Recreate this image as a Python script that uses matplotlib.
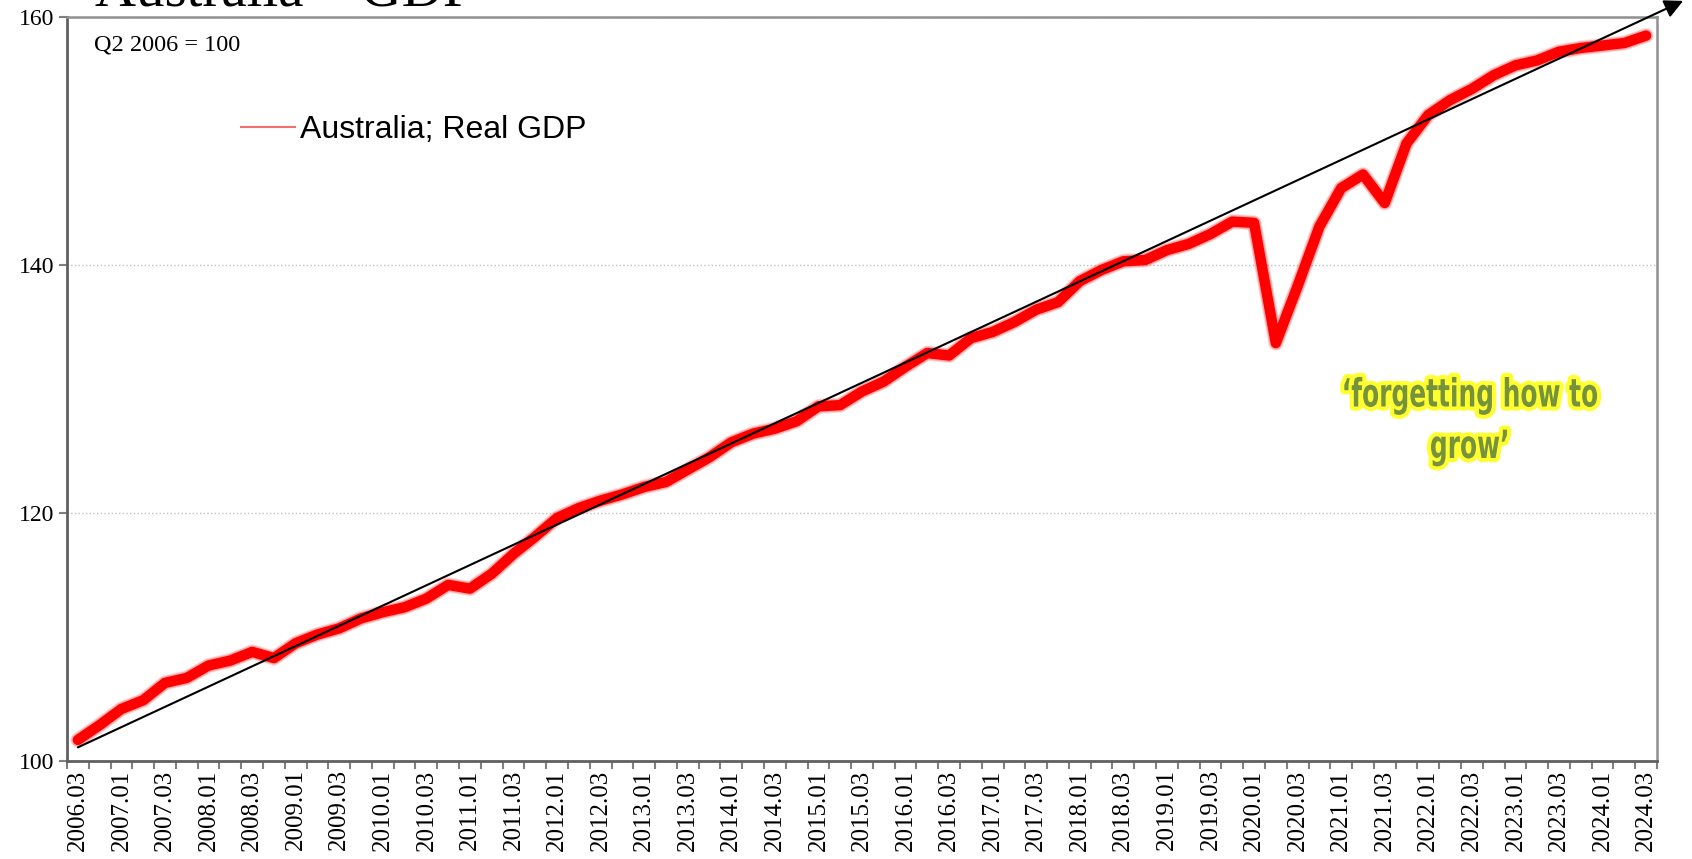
import numpy as np
import matplotlib
matplotlib.use("Agg")
import matplotlib.pyplot as plt
from matplotlib.lines import Line2D
from matplotlib.transforms import Affine2D
import matplotlib.patheffects as pe

# quarterly categories 2006.03 .. 2024.03
quarters = [f"{y}.{q:02d}" for y in range(2006, 2025) for q in range(1, 5)][2:75]

# Australia real GDP, Q2 2006 = 100
gdp = [101.7, 102.9, 104.2, 104.9, 106.3, 106.7, 107.7, 108.1, 108.8, 108.3,
       109.5, 110.2, 110.7, 111.5, 112.0, 112.4, 113.1, 114.2, 113.9, 115.1,
       116.7, 118.1, 119.6, 120.4, 121.0, 121.5, 122.1, 122.5, 123.5, 124.5,
       125.7, 126.4, 126.8, 127.4, 128.6, 128.7, 129.8, 130.6, 131.8, 132.9,
       132.7, 134.1, 134.6, 135.4, 136.4, 137.0, 138.7, 139.6, 140.3, 140.4,
       141.2, 141.7, 142.5, 143.5, 143.4, 133.7, 138.3, 143.1, 146.2, 147.3,
       145.0, 149.8, 152.1, 153.3, 154.2, 155.3, 156.1, 156.5, 157.2, 157.5,
       157.7, 157.9, 158.5]

trend_start = (0, 101.1)
trend_end = (73.7, 161.3)
note_pos = (63.9, 127.4)

serif = ['Liberation Serif', 'DejaVu Serif']
sans = ['Liberation Sans', 'DejaVu Sans']


class Squeezed(pe.AbstractPathEffect):
    """draw glyphs narrower (condensed look), optionally with a coloured outline"""
    def __init__(self, sx, get_cx, lw=None, fg=None):
        super().__init__()
        self.sx, self.get_cx, self.lw, self.fg = sx, get_cx, lw, fg

    def draw_path(self, renderer, gc, tpath, affine, rgbFace=None):
        cx = self.get_cx()
        aff = affine + Affine2D().translate(-cx, 0).scale(self.sx, 1).translate(cx, 0)
        if self.fg is not None:
            gc0 = renderer.new_gc()
            gc0.copy_properties(gc)
            gc0.set_foreground(self.fg)
            gc0.set_linewidth(self.lw)
            gc0.set_joinstyle('round')
            renderer.draw_path(gc0, tpath, aff, rgbFace)
            gc0.restore()
        else:
            renderer.draw_path(gc, tpath, aff, rgbFace)


fig = plt.figure(figsize=(16.92, 8.59), dpi=100)
ax = fig.add_axes([67/1692, 1-761/859, (1657-67)/1692, (761-17)/859])

x = np.arange(len(gdp))
# soft glowing red line
ax.plot(x, gdp, color='red', lw=11, alpha=0.12, solid_capstyle='round', zorder=2)
ax.plot(x, gdp, color='red', lw=9.5, alpha=0.25, solid_capstyle='round', zorder=2)
ax.plot(x, gdp, color='red', lw=7.5, solid_capstyle='round', zorder=3)

ax.annotate('', xy=trend_end, xytext=trend_start, annotation_clip=False,
            arrowprops=dict(arrowstyle='-|>', color='black', lw=1.5,
                            mutation_scale=28, shrinkA=0, shrinkB=0), zorder=5)

ax.set_xlim(-0.5, len(gdp) - 0.5)
ax.set_ylim(100, 160)
ax.set_yticks([100, 120, 140, 160])
ax.yaxis.grid(True, color='#c0c0c0', ls=':', lw=1)
ax.set_axisbelow(True)

ax.set_xticks(np.arange(len(gdp) + 1) - 0.5)
ax.set_xticklabels([])
ax.set_xticks(x[::2], minor=True)
ax.set_xticklabels(quarters[::2], minor=True, rotation=90, fontsize=18,
                   family=serif, va='top', ha='center')
ax.tick_params(axis='x', which='major', length=6, width=1.5, color='#808080')
ax.tick_params(axis='x', which='minor', length=0, pad=6)
ax.tick_params(axis='y', length=6, width=1.5, color='#808080', pad=3,
               labelsize=17)
for lab in ax.get_yticklabels():
    lab.set_family(serif)

for side in ['top', 'right']:
    ax.spines[side].set_color('#909090')
    ax.spines[side].set_linewidth(1.8)
for side in ['left', 'bottom']:
    ax.spines[side].set_color('#606060')
    ax.spines[side].set_linewidth(2)

ax.text((94-67)/1590, 1 - (50-17)/744, 'Q2 2006 = 100', transform=ax.transAxes,
        family=serif, fontsize=17.5, va='baseline')

handle = Line2D([], [], color='#f07070', lw=1.5)
ax.legend([handle], ['Australia; Real GDP'], loc='center left',
          bbox_to_anchor=(241/1692, 1-130/859), bbox_transform=fig.transFigure,
          frameon=False, borderpad=0, borderaxespad=0, handlelength=1.7,
          handletextpad=0.15, prop=dict(family=sans, size=23))

note_cx = lambda: ax.transData.transform(note_pos)[0]
ax.text(note_pos[0], note_pos[1], '\u2018forgetting how to\ngrow\u2019',
        ha='center', va='center', family='DejaVu Sans', fontweight='bold',
        fontsize=28, color='#76923c', linespacing=1.45, zorder=6,
        path_effects=[Squeezed(0.64, note_cx, lw=6, fg='#ffff30'),
                      Squeezed(0.64, note_cx)])

fig.text(95/1692, 1 - 5/859, 'Australia \u2013 GDP', family=serif, fontsize=41,
         va='baseline', ha='left')

fig.savefig('out.png', dpi=100)
